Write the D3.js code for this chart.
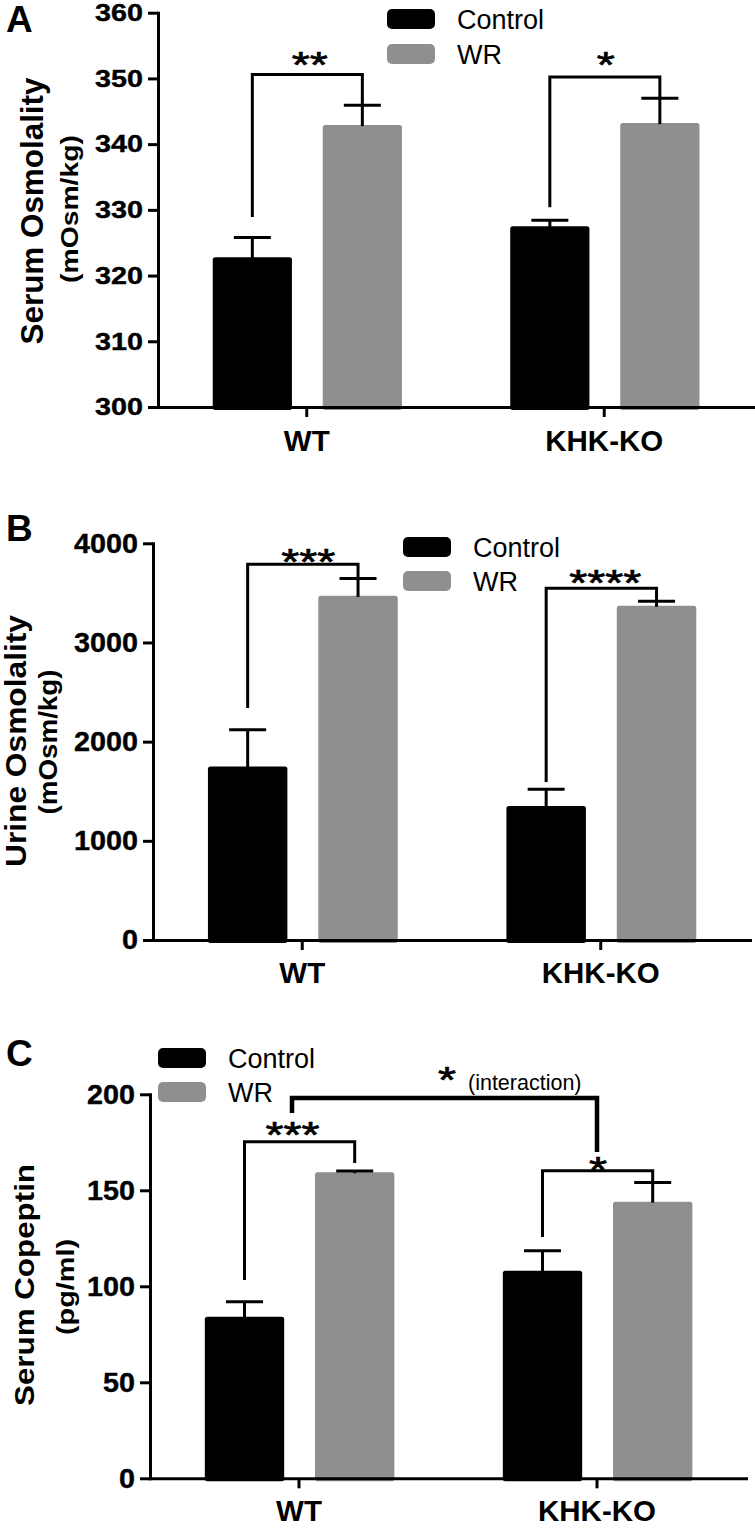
<!DOCTYPE html>
<html><head><meta charset="utf-8">
<script src="https://cdn.jsdelivr.net/npm/d3@7"></script>
<style>
body{margin:0;background:#fff;}
svg{display:block;font-family:"Liberation Sans", Arial, Helvetica, sans-serif;}
</style></head><body>
<svg id="chart" width="755" height="1537"></svg>
<script>
// ---------- data ----------
const groups = ["WT", "KHK-KO"];
const seriesNames = ["Control", "WR"];

const serumOsmTicks = [300, 310, 320, 330, 340, 350, 360];
const serumOsmControl = [322.8, 327.5];
const serumOsmControlSEM = [3.0, 0.9];
const serumOsmWR = [342.9, 343.2];
const serumOsmWRSEM = [3.0, 3.8];
// [group, label, bracket top, left leg end, right leg end]
const serumOsmSig = [["WT", "**", 350.6, 328.9, 345.9], ["KHK-KO", "*", 350.2, 330.4, 347.0]];

const urineOsmTicks = [0, 1000, 2000, 3000, 4000];
const urineOsmControl = [1750, 1350];
const urineOsmControlSEM = [370, 170];
const urineOsmWR = [3470, 3370];
const urineOsmWRSEM = [175, 45];
const urineOsmSig = [["WT", "***", 3790, 2340, 3645], ["KHK-KO", "****", 3548, 1593, 3415]];

const copeptinTicks = [0, 50, 100, 150, 200];
const copeptinControl = [84.2, 108.1];
const copeptinControlSEM = [7.8, 10.4];
const copeptinWR = [159.4, 144.1];
const copeptinWRSEM = [0.7, 9.9];
const copeptinSig = [["WT", "***", 175.3, 103.3, 164.2], ["KHK-KO", "*", 160.2, 125.7, 154.0]];
// interaction bracket: [top, left end, right end]
const copeptinInteraction = [198.1, 190.3, 170.0];

// ---------- drawing ----------
const svg = d3.select("#chart");
const color = d3.scaleOrdinal().domain(seriesNames).range(["#000000", "#8f8f8f"]);
const FONT = '"Liberation Sans", Arial, Helvetica, sans-serif';
const STAR_FS = 36;

function star(g, xc, yc, lab) {
  g.append("text")
    .attr("x", xc).attr("y", yc + 0.64 * STAR_FS)
    .attr("text-anchor", "middle")
    .attr("font-size", STAR_FS).attr("font-family", FONT)
    .attr("stroke", "#000").attr("stroke-width", 0.7)
    .attr("textLength", 18 * lab.length).attr("lengthAdjust", "spacingAndGlyphs")
    .text(lab);
}

function drawPanel(p) {
  const g = svg.append("g");
  const x = d3.scaleBand().domain(groups).range([p.x0, p.x1]).paddingInner(0).paddingOuter(0);
  const bw = x.bandwidth();
  const xs = d3.scaleBand().domain(seriesNames).range([bw * 0.184, bw * 0.82]).paddingInner(0.28).paddingOuter(0);
  const y = d3.scaleLinear().domain([p.ticks[0], p.ticks[p.ticks.length - 1]]).range([p.yBot, p.yTop]);
  const cx = (grp, s) => x(grp) + xs(s) + xs.bandwidth() / 2;

  const rows = [];
  groups.forEach((grp, i) => {
    rows.push({grp, s: "Control", v: p.control[i], e: p.controlSEM[i]});
    rows.push({grp, s: "WR", v: p.wr[i], e: p.wrSEM[i]});
  });

  // bars
  g.selectAll("rect.bar").data(rows).join("rect")
    .attr("class", "bar")
    .attr("x", d => x(d.grp) + xs(d.s))
    .attr("width", xs.bandwidth())
    .attr("y", d => y(d.v))
    .attr("height", d => y(p.ticks[0]) - y(d.v) + 3)
    .attr("rx", 2.5)
    .attr("fill", d => color(d.s));

  // error bars (upper)
  const capW = 37;
  const eb = g.selectAll("g.eb").data(rows).join("g").attr("class", "eb")
    .attr("stroke", "#000").attr("stroke-width", 3);
  eb.append("line")
    .attr("x1", d => cx(d.grp, d.s)).attr("x2", d => cx(d.grp, d.s))
    .attr("y1", d => y(d.v) + 1).attr("y2", d => y(d.v + d.e));
  eb.append("line")
    .attr("x1", d => cx(d.grp, d.s) - capW / 2).attr("x2", d => cx(d.grp, d.s) + capW / 2)
    .attr("y1", d => y(d.v + d.e)).attr("y2", d => y(d.v + d.e));

  // significance brackets
  p.sig.forEach((s, k) => {
    const [grp, lab, top, lEnd, rEnd] = s;
    const xl = cx(grp, "Control"), xr = cx(grp, "WR");
    g.append("path")
      .attr("d", `M${xl},${y(lEnd)}V${y(top)}H${xr}V${y(rEnd)}`)
      .attr("fill", "none").attr("stroke", "#000").attr("stroke-width", 3)
      .attr("stroke-linejoin", "miter");
    const st = p.starPos[k];
    star(g, (xl + xr) / 2 + st[0], st[1], lab);
  });

  // axes
  const yAxis = d3.axisLeft(y).tickValues(p.ticks).tickFormat(d3.format("d"))
    .tickSize(10).tickPadding(5).tickSizeOuter(0);
  const ya = g.append("g").attr("transform", `translate(${p.x0},0)`).call(yAxis);
  ya.select(".domain").attr("stroke-width", 3).attr("stroke-linecap", "square");
  ya.selectAll(".tick line").attr("stroke-width", 3);
  ya.selectAll(".tick text").attr("font-size", p.tickFont).attr("font-weight", "bold")
    .attr("font-family", FONT).attr("fill", "#000")
    .attr("stroke", "#000").attr("stroke-width", 0.4)
    .attr("textLength", d => String(d).length * 16).attr("lengthAdjust", "spacingAndGlyphs");

  const xAxis = d3.axisBottom(x).tickSize(10).tickPadding(p.xPad).tickSizeOuter(0);
  const xa = g.append("g").attr("transform", `translate(0,${p.yBot})`).call(xAxis);
  xa.select(".domain").attr("stroke-width", 3).attr("stroke-linecap", "square");
  xa.selectAll(".tick line").attr("stroke-width", 3);
  xa.selectAll(".tick text").attr("font-size", 29.5).attr("font-weight", "bold")
    .attr("font-family", FONT).attr("fill", "#000");

  // titles
  g.append("text")
    .attr("transform", `translate(${p.titleX},${p.titleY}) rotate(-90)`)
    .attr("text-anchor", "middle").attr("font-size", p.titleFs).attr("font-weight", "bold")
    .attr("font-family", FONT)
    .attr("textLength", p.titleLen).attr("lengthAdjust", "spacingAndGlyphs")
    .text(p.title);
  g.append("text")
    .attr("transform", `translate(${p.subX},${p.subY}) rotate(-90)`)
    .attr("text-anchor", "middle").attr("font-size", p.subFs).attr("font-weight", "bold")
    .attr("font-family", FONT)
    .attr("textLength", p.subLen).attr("lengthAdjust", "spacingAndGlyphs")
    .text(p.subtitle);

  // panel letter
  g.append("text").attr("x", 6).attr("y", p.letterY)
    .attr("font-size", 37).attr("font-weight", "bold").attr("font-family", FONT).text(p.letter);

  // legend
  const lg = g.append("g").attr("transform", `translate(${p.legX},${p.legY})`);
  seriesNames.forEach((s, i) => {
    lg.append("rect").attr("x", 0).attr("y", i * p.legStep).attr("width", 48).attr("height", 20)
      .attr("rx", 5).attr("fill", color(s));
    lg.append("text").attr("x", 70).attr("y", i * p.legStep + 20)
      .attr("font-size", 27).attr("font-family", FONT).text(s);
  });

  return {x, y, cx, g};
}

drawPanel({
  letter: "A", letterY: 32,
  title: "Serum Osmolality", subtitle: "(mOsm/kg)",
  titleX: 43, titleY: 211, titleFs: 31, titleLen: 267,
  subX: 78, subY: 209, subFs: 24.5, subLen: 148,
  ticks: serumOsmTicks, control: serumOsmControl, controlSEM: serumOsmControlSEM,
  wr: serumOsmWR, wrSEM: serumOsmWRSEM, sig: serumOsmSig,
  starPos: [[2.5, 55], [1, 55]],
  x0: 158, x1: 753, yTop: 12.7, yBot: 407, xPad: 13, tickFont: 24.5,
  legX: 387, legY: 9, legStep: 35
});

drawPanel({
  letter: "B", letterY: 541,
  title: "Urine Osmolality", subtitle: "(mOsm/kg)",
  titleX: 26, titleY: 741, titleFs: 29, titleLen: 252,
  subX: 57, subY: 742, subFs: 25.5, subLen: 145,
  ticks: urineOsmTicks, control: urineOsmControl, controlSEM: urineOsmControlSEM,
  wr: urineOsmWR, wrSEM: urineOsmWRSEM, sig: urineOsmSig,
  starPos: [[5.5, 552], [4, 573]],
  x0: 153, x1: 750, yTop: 543.3, yBot: 940, xPad: 11.7, tickFont: 28,
  legX: 403, legY: 537, legStep: 34
});

const pc = drawPanel({
  letter: "C", letterY: 1066,
  title: "Serum Copeptin", subtitle: "(pg/ml)",
  titleX: 34, titleY: 1285, titleFs: 28.5, titleLen: 242,
  subX: 74, subY: 1287, subFs: 23.5, subLen: 96,
  ticks: copeptinTicks, control: copeptinControl, controlSEM: copeptinControlSEM,
  wr: copeptinWR, wrSEM: copeptinWRSEM, sig: copeptinSig,
  starPos: [[-7, 1125], [0.5, 1159.5]],
  x0: 150, x1: 746, yTop: 1094.3, yBot: 1478.3, xPad: 11.7, tickFont: 28,
  legX: 158, legY: 1048, legStep: 34
});

// interaction bracket (panel C)
{
  const [top, lEnd, rEnd] = copeptinInteraction;
  const xl = pc.x("WT") + pc.x.bandwidth() / 2 - 7;
  const xr = pc.x("KHK-KO") + pc.x.bandwidth() / 2;
  pc.g.append("path")
    .attr("d", `M${xl},${pc.y(lEnd)}V${pc.y(top)}H${xr}V${pc.y(rEnd)}`)
    .attr("fill", "none").attr("stroke", "#000").attr("stroke-width", 4.5);
  star(pc.g, 447, 1070, "*");
  pc.g.append("text").attr("x", 468).attr("y", 1090)
    .attr("font-size", 21.5).attr("font-family", FONT).text("(interaction)");
}
</script>
</body></html>
